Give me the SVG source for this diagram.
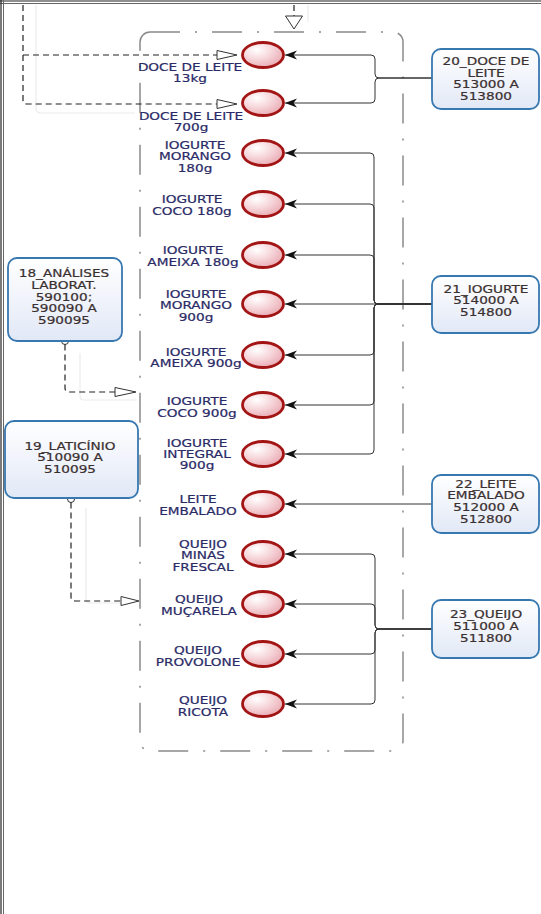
<svg xmlns="http://www.w3.org/2000/svg" width="541" height="914" viewBox="0 0 541 914">
<style>
.lbl{font-family:"DejaVu Sans",sans-serif;font-size:10.5px;fill:#2a2a66;stroke:#2a2a66;stroke-width:0.2;text-anchor:middle}
.btx{font-family:"DejaVu Sans",sans-serif;font-size:10.5px;fill:#3b3030;stroke:#3b3030;stroke-width:0.2;text-anchor:middle}
.ev{fill:url(#evg);stroke:#a31515;stroke-width:2.8}
.box{fill:url(#bxg);stroke:#3878b0;stroke-width:1.8}
.con{fill:none;stroke:#333;stroke-width:1;marker-end:url(#arr)}
.dsh{fill:none;stroke:#222;stroke-width:1.2;stroke-dasharray:6 4}
.tri{fill:#fff;stroke:#333;stroke-width:1}
.faint{fill:none;stroke:#ececec;stroke-width:1.2}
.frame{stroke:#222;stroke-width:1.2}
</style>
<defs>
<radialGradient id="evg" cx="35%" cy="30%" r="75%">
<stop offset="0" stop-color="#ffffff"/>
<stop offset="0.5" stop-color="#f6d6da"/>
<stop offset="1" stop-color="#e9a9b2"/>
</radialGradient>
<linearGradient id="bxg" x1="0" y1="0" x2="0" y2="1">
<stop offset="0" stop-color="#ffffff"/>
<stop offset="1" stop-color="#e1e8f6"/>
</linearGradient>
<marker id="arr" viewBox="0 -5 12 10" refX="12" refY="0" markerWidth="12" markerHeight="10" markerUnits="userSpaceOnUse" orient="auto">
<path d="M0,-4.5 L12,0 L0,4.5 L3.5,0 Z" fill="#111"/>
</marker>
</defs>

<g id="frame">
<line class="frame" x1="0" y1="1" x2="541" y2="1"/>
<line x1="0" y1="3.5" x2="541" y2="3.5" stroke="#666" stroke-width="1"/>
<line class="frame" x1="1" y1="0" x2="1" y2="914"/>
<line x1="3.5" y1="0" x2="3.5" y2="914" stroke="#666" stroke-width="1"/>
</g>

<g id="shadows">
<path class="faint" d="M36,5 V108 Q36,113 41,113 H135"/>
<path class="faint" d="M308,5 V22"/>
<path class="faint" d="M80,353 V396 Q80,400 84,400 H137"/>
<path class="faint" d="M86,508 V598 Q86,603 90,603 H120"/>
</g>

<g id="container">
<rect x="140" y="32" width="263" height="719" rx="10" ry="10" fill="none" stroke="#8a8a8a" stroke-width="1.5" stroke-dasharray="30 15 2 15"/>
</g>

<g id="connectors">
<path class="con" d="M432,78 H379 Q375,78 375,74 V59 Q375,55 371,55 H285"/>
<path class="con" d="M432,78 H379 Q375,78 375,82 V99 Q375,103 371,103 H285"/>

<path class="con" d="M432,304 H378 Q374,304 374,300 V157 Q374,153 370,153 H285"/>
<path class="con" d="M432,304 H378 Q374,304 374,300 V208 Q374,204 370,204 H285"/>
<path class="con" d="M432,304 H378 Q374,304 374,300 V259 Q374,255 370,255 H285"/>
<path class="con" d="M432,304 H285"/>
<path class="con" d="M432,304 H378 Q374,304 374,308 V351 Q374,355 370,355 H285"/>
<path class="con" d="M432,304 H378 Q374,304 374,308 V401 Q374,405 370,405 H285"/>
<path class="con" d="M432,304 H378 Q374,304 374,308 V450 Q374,454 370,454 H285"/>

<path class="con" d="M432,504 H285"/>

<path class="con" d="M432,629 H379 Q375,629 375,625 V558 Q375,554 371,554 H285"/>
<path class="con" d="M432,629 H379 Q375,629 375,625 V608 Q375,604 371,604 H285"/>
<path class="con" d="M432,629 H379 Q375,629 375,633 V650 Q375,654 371,654 H285"/>
<path class="con" d="M432,629 H379 Q375,629 375,633 V700 Q375,704 371,704 H285"/>

<path class="dsh" d="M294,5 V16"/>
<polygon class="tri" points="285.5,16 302.5,16 294,29"/>
<path class="dsh" d="M23,5 V100 Q23,104 27,104 H217"/>
<path class="dsh" d="M23,55 H217"/>
<polygon class="tri" points="217,50.5 237,55 217,59.5"/>
<polygon class="tri" points="217,99.5 237,104 217,108.5"/>

<circle cx="65" cy="341" r="3.5" fill="#fff" stroke="#333" stroke-width="1"/>
<path class="dsh" d="M65,344.5 V388 Q65,392 69,392 H115"/>
<polygon class="tri" points="115,387.5 136,392 115,396.5"/>

<circle cx="71" cy="499" r="3.5" fill="#fff" stroke="#333" stroke-width="1"/>
<path class="dsh" d="M71,502.5 V597 Q71,601 75,601 H121"/>
<polygon class="tri" points="121,596.5 139,601 121,605.5"/>
</g>

<g id="box18">
<rect class="box" x="8" y="258" width="114" height="83" rx="9"/>
<text class="btx" transform="translate(64 277) scale(1.3 1)"><tspan x="0">18_ANÁLISES</tspan><tspan x="0" dy="12">LABORAT.</tspan><tspan x="0" dy="12">590100;</tspan><tspan x="0" dy="11.5">590090 A</tspan><tspan x="0" dy="11.5">590095</tspan></text>
</g>
<g id="box19">
<rect class="box" x="5" y="421" width="133" height="77" rx="9"/>
<text class="btx" transform="translate(70 450) scale(1.3 1)"><tspan x="0">19_LATICÍNIO</tspan><tspan x="0" dy="11.5">510090 A</tspan><tspan x="0" dy="11.5">510095</tspan></text>
</g>
<g id="box20">
<rect class="box" x="432" y="49" width="107" height="60" rx="9"/>
<text class="btx" transform="translate(486 65) scale(1.3 1)"><tspan x="0">20_DOCE DE</tspan><tspan x="0" dy="11.7">LEITE</tspan><tspan x="0" dy="11.7">513000 A</tspan><tspan x="0" dy="11.7">513800</tspan></text>
</g>
<g id="box21">
<rect class="box" x="432" y="276" width="107" height="57" rx="9"/>
<text class="btx" transform="translate(486 293) scale(1.3 1)"><tspan x="0">21_IOGURTE</tspan><tspan x="0" dy="11.5">514000 A</tspan><tspan x="0" dy="12">514800</tspan></text>
</g>
<g id="box22">
<rect class="box" x="432" y="475" width="107" height="58" rx="9"/>
<text class="btx" transform="translate(486 488) scale(1.3 1)"><tspan x="0">22_LEITE</tspan><tspan x="0" dy="11.5">EMBALADO</tspan><tspan x="0" dy="11.7">512000 A</tspan><tspan x="0" dy="11.7">512800</tspan></text>
</g>
<g id="box23">
<rect class="box" x="432" y="600" width="107" height="58" rx="9"/>
<text class="btx" transform="translate(486 618) scale(1.3 1)"><tspan x="0">23_QUEIJO</tspan><tspan x="0" dy="12.5">511000 A</tspan><tspan x="0" dy="12">511800</tspan></text>
</g>

<g id="n1"><ellipse class="ev" cx="263" cy="55" rx="20.5" ry="12.5"/>
<text class="lbl" transform="translate(190 71) scale(1.3 1)"><tspan x="0">DOCE DE LEITE</tspan><tspan x="0" dy="11">13kg</tspan></text></g>
<g id="n2"><ellipse class="ev" cx="263" cy="103" rx="20.5" ry="12.5"/>
<text class="lbl" transform="translate(191 120) scale(1.3 1)"><tspan x="0">DOCE DE LEITE</tspan><tspan x="0" dy="11">700g</tspan></text></g>
<g id="n3"><ellipse class="ev" cx="263" cy="153" rx="20.5" ry="12.5"/>
<text class="lbl" transform="translate(195 149) scale(1.3 1)"><tspan x="0">IOGURTE</tspan><tspan x="0" dy="11.5">MORANGO</tspan><tspan x="0" dy="11.5">180g</tspan></text></g>
<g id="n4"><ellipse class="ev" cx="263" cy="204" rx="20.5" ry="12.5"/>
<text class="lbl" transform="translate(192 203) scale(1.3 1)"><tspan x="0">IOGURTE</tspan><tspan x="0" dy="12">COCO 180g</tspan></text></g>
<g id="n5"><ellipse class="ev" cx="263" cy="255" rx="20.5" ry="12.5"/>
<text class="lbl" transform="translate(193 254) scale(1.3 1)"><tspan x="0">IOGURTE</tspan><tspan x="0" dy="12">AMEIXA 180g</tspan></text></g>
<g id="n6"><ellipse class="ev" cx="263" cy="304" rx="20.5" ry="12.5"/>
<text class="lbl" transform="translate(196 298) scale(1.3 1)"><tspan x="0">IOGURTE</tspan><tspan x="0" dy="11.5">MORANGO</tspan><tspan x="0" dy="11.5">900g</tspan></text></g>
<g id="n7"><ellipse class="ev" cx="263" cy="355" rx="20.5" ry="12.5"/>
<text class="lbl" transform="translate(196 356) scale(1.3 1)"><tspan x="0">IOGURTE</tspan><tspan x="0" dy="11.5">AMEIXA 900g</tspan></text></g>
<g id="n8"><ellipse class="ev" cx="263" cy="405" rx="20.5" ry="12.5"/>
<text class="lbl" transform="translate(197 405) scale(1.3 1)"><tspan x="0">IOGURTE</tspan><tspan x="0" dy="12">COCO 900g</tspan></text></g>
<g id="n9"><ellipse class="ev" cx="263" cy="454" rx="20.5" ry="12.5"/>
<text class="lbl" transform="translate(197 447) scale(1.3 1)"><tspan x="0">IOGURTE</tspan><tspan x="0" dy="11">INTEGRAL</tspan><tspan x="0" dy="11">900g</tspan></text></g>
<g id="n10"><ellipse class="ev" cx="263" cy="504" rx="20.5" ry="12.5"/>
<text class="lbl" transform="translate(198 503) scale(1.3 1)"><tspan x="0">LEITE</tspan><tspan x="0" dy="12">EMBALADO</tspan></text></g>
<g id="n11"><ellipse class="ev" cx="263" cy="554" rx="20.5" ry="12.5"/>
<text class="lbl" transform="translate(203 548) scale(1.3 1)"><tspan x="0">QUEIJO</tspan><tspan x="0" dy="11.5">MINAS</tspan><tspan x="0" dy="11.5">FRESCAL</tspan></text></g>
<g id="n12"><ellipse class="ev" cx="263" cy="604" rx="20.5" ry="12.5"/>
<text class="lbl" transform="translate(199 603) scale(1.3 1)"><tspan x="0">QUEIJO</tspan><tspan x="0" dy="12">MUÇARELA</tspan></text></g>
<g id="n13"><ellipse class="ev" cx="263" cy="654" rx="20.5" ry="12.5"/>
<text class="lbl" transform="translate(198 654) scale(1.3 1)"><tspan x="0">QUEIJO</tspan><tspan x="0" dy="12">PROVOLONE</tspan></text></g>
<g id="n14"><ellipse class="ev" cx="263" cy="704" rx="20.5" ry="12.5"/>
<text class="lbl" transform="translate(203 704) scale(1.3 1)"><tspan x="0">QUEIJO</tspan><tspan x="0" dy="12">RICOTA</tspan></text></g>
</svg>
